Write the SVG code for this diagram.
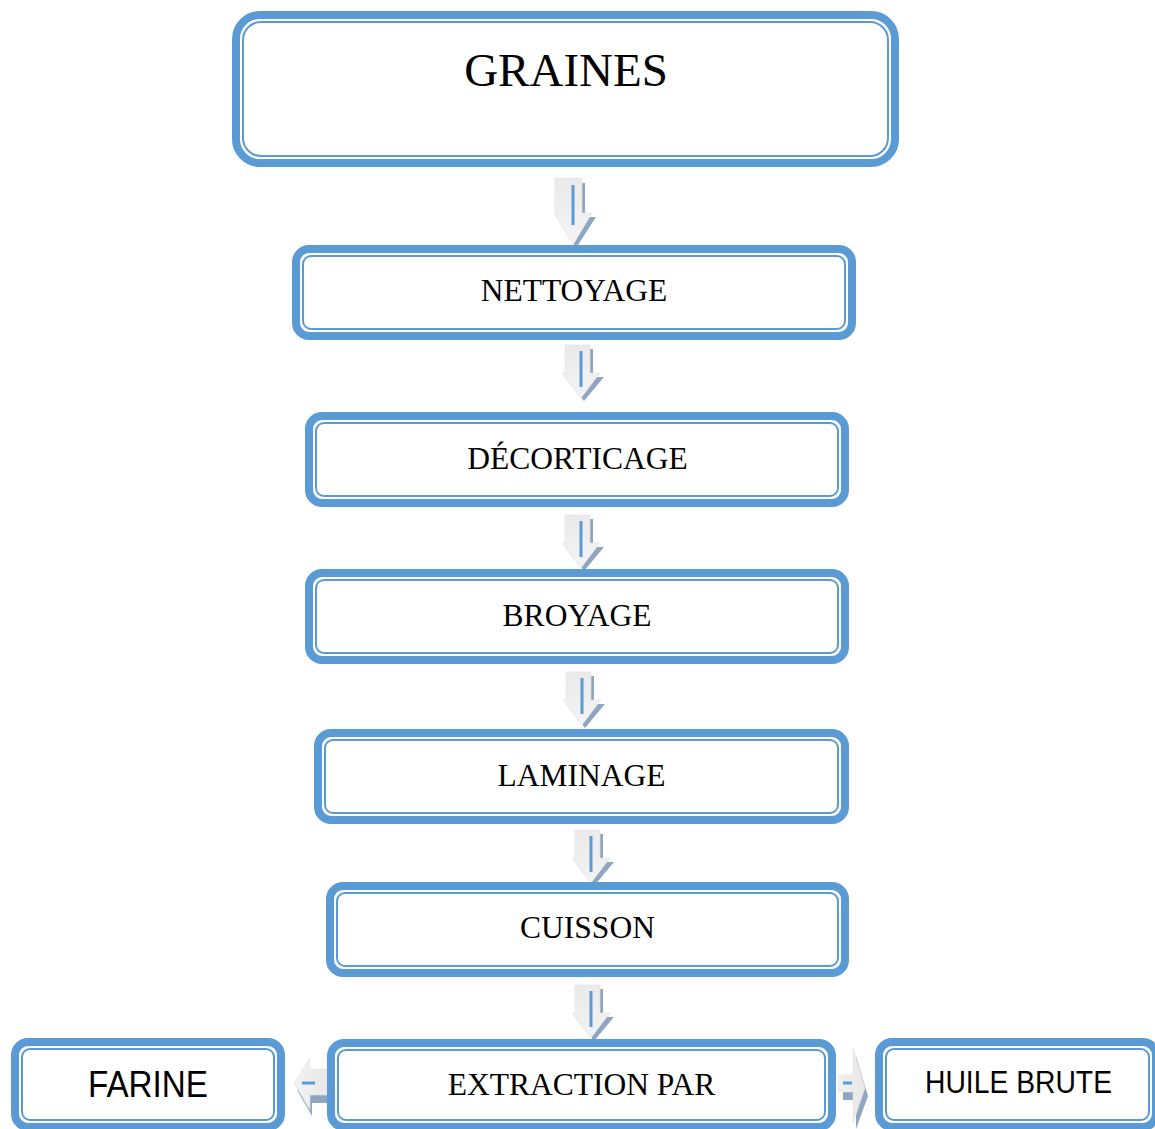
<svg xmlns="http://www.w3.org/2000/svg" xmlns:xlink="http://www.w3.org/1999/xlink" width="1155" height="1129" viewBox="0 0 1155 1129">
<style>
.outer{fill:#fff;stroke:#5b9bd5;stroke-width:8}
.inner{fill:none;stroke:#5b9bd5;stroke-width:2}
.t{font-family:"Liberation Serif","Times New Roman",serif;font-size:31.5px;text-anchor:middle;fill:#000}
.s{font-family:"Liberation Sans",Arial,sans-serif;text-anchor:middle;fill:#000}
.shadow{fill:#8fa5c0}
.body{fill:url(#ag);stroke:#e2e2e2;stroke-width:0.6}
.bl{stroke:#5b9bd5;stroke-width:3;fill:none}
</style>
<defs>
<linearGradient id="ag" x1="0" y1="0" x2="0" y2="1">
<stop offset="0" stop-color="#eaeaea"/>
<stop offset="0.55" stop-color="#efefef"/>
<stop offset="1" stop-color="#f4f4f4"/>
</linearGradient>
<linearGradient id="agh" x1="0" y1="0" x2="1" y2="0">
<stop offset="0" stop-color="#f2f2f2"/>
<stop offset="1" stop-color="#e6e6e6"/>
</linearGradient>
<g id="arrS">
<path class="shadow" d="M-13,4 H12 V32 H23 L3,56 L-16,32 H-13 Z"/>
<path class="body" d="M-16,0 H9 V28 H19 L0,53 L-19,28 H-16 Z"/>
<line class="bl" x1="0" y1="6" x2="0" y2="42"/>
</g>
<g id="arrL">
<path class="shadow" d="M-15,5 H12 V39 H23 L3,70 L-16,39 H-15 Z"/>
<path class="body" d="M-18,0 H9 V35 H19 L0,67 L-19,35 H-18 Z"/>
<line class="bl" x1="0" y1="7" x2="0" y2="47"/>
</g>
</defs>
<g id="connectors">
<use xlink:href="#arrL" transform="translate(573,178)"/>
<use xlink:href="#arrS" transform="translate(581,345)"/>
<use xlink:href="#arrS" transform="translate(581,515)"/>
<use xlink:href="#arrS" transform="translate(582,672)"/>
<use xlink:href="#arrS" transform="translate(591,830)"/>
<use xlink:href="#arrS" transform="translate(591,985)"/>
<g id="arrow-left">
<path class="shadow" d="M312,1076 H334 V1103 H312 V1116 L297,1090 Z"/>
<path fill="url(#agh)" stroke="#e2e2e2" stroke-width="0.6" d="M310,1069 H334 V1095 H310 V1110 L294,1083 L310,1058 Z"/>
<line class="bl" x1="302" y1="1083" x2="315" y2="1083"/>
</g>
<g id="arrow-right">
<path class="shadow" d="M843,1083 H856 V1100 H843 Z M856,1056 L868,1096 L856,1129 Z"/>
<path fill="url(#agh)" stroke="#e2e2e2" stroke-width="0.6" d="M838,1075 H853 V1048 L865,1088 L853,1123 V1092 H838 Z"/>
<line class="bl" x1="843" y1="1083" x2="852" y2="1083"/>
</g>
</g>
<g id="node-graines">
<rect class="outer" x="236" y="15" width="659" height="148" rx="24"/>
<rect class="inner" x="243" y="22" width="645" height="134" rx="18"/>
<text class="t" x="566" y="86" style="font-size:47px">GRAINES</text>
</g>
<g id="node-nettoyage">
<rect class="outer" x="296" y="249" width="556" height="87" rx="13"/>
<rect class="inner" x="303" y="256" width="542" height="73" rx="8"/>
<text class="t" x="574" y="301">NETTOYAGE</text>
</g>
<g id="node-decorticage">
<rect class="outer" x="309" y="416" width="536" height="87" rx="13"/>
<rect class="inner" x="316" y="423" width="522" height="73" rx="8"/>
<text class="t" x="577.5" y="469">DÉCORTICAGE</text>
</g>
<g id="node-broyage">
<rect class="outer" x="309" y="573" width="536" height="87" rx="13"/>
<rect class="inner" x="316" y="580" width="522" height="73" rx="8"/>
<text class="t" x="577" y="626">BROYAGE</text>
</g>
<g id="node-laminage">
<rect class="outer" x="318" y="733" width="527" height="87" rx="13"/>
<rect class="inner" x="325" y="740" width="513" height="73" rx="8"/>
<text class="t" x="581.5" y="786">LAMINAGE</text>
</g>
<g id="node-cuisson">
<rect class="outer" x="330" y="886" width="515" height="87" rx="13"/>
<rect class="inner" x="337" y="893" width="501" height="73" rx="8"/>
<text class="t" x="587.5" y="938">CUISSON</text>
</g>
<g id="node-extraction">
<rect class="outer" x="331" y="1043" width="501" height="84" rx="13"/>
<rect class="inner" x="338" y="1050" width="487" height="70" rx="8"/>
<text class="t" x="581.5" y="1095">EXTRACTION PAR</text>
</g>
<g id="node-farine">
<rect class="outer" x="15" y="1042" width="266" height="85" rx="13"/>
<rect class="inner" x="22" y="1049" width="252" height="71" rx="8"/>
<text class="s" x="148" y="1097" style="font-size:36px" textLength="120" lengthAdjust="spacingAndGlyphs">FARINE</text>
</g>
<g id="node-huile">
<rect class="outer" x="879" y="1042" width="277" height="85" rx="13"/>
<rect class="inner" x="886" y="1049" width="263" height="71" rx="8"/>
<text class="s" x="1018.5" y="1093" style="font-size:31px" textLength="187" lengthAdjust="spacingAndGlyphs">HUILE BRUTE</text>
</g>
</svg>
